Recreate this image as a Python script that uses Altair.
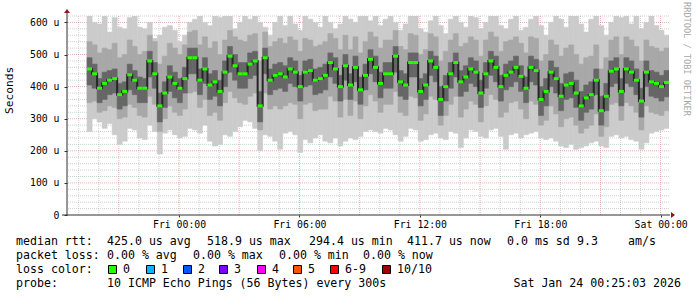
import altair as alt
import pandas as pd

# ---------------- data ----------------
# 15-minute bins, first bin starts Thu 19:25 (minute 60 after graph start Thu 18:25)
bin_start_min = 60
bin_minutes = 15

# median RTT (microseconds)
med = [455, 440, 395, 410, 420, 425, 375, 385, 437, 420,
       395, 395, 480, 440, 340, 380, 430, 410, 395, 425,
       490, 490, 420, 455, 405, 415, 385, 445, 495, 465,
       440, 440, 470, 480, 340, 490, 420, 435, 440, 430,
       455, 445, 400, 445, 450, 420, 425, 435, 475, 455,
       400, 465, 405, 460, 390, 435, 485, 460, 410, 440,
       440, 495, 415, 405, 475, 475, 385, 405, 480, 460,
       360, 400, 440, 475, 415, 430, 455, 445, 380, 440,
       480, 460, 400, 435, 445, 460, 432, 395, 460, 450,
       360, 385, 445, 425, 370, 405, 410, 380, 340, 365,
       375, 420, 325, 370, 448, 455, 385, 455, 445, 420,
       355, 445, 415, 410, 400, 413]

# outer smoke (min .. max ping)
smoke_hi = [620, 600, 595, 620, 570, 615, 585, 580, 615, 620,
            585, 580, 600, 550, 560, 585, 590, 575, 540, 560,
            600, 610, 620, 600, 590, 620, 615, 620, 620, 580,
            600, 620, 610, 620, 600, 585, 560, 600, 620, 590,
            620, 595, 575, 620, 610, 600, 585, 620, 600, 580,
            595, 620, 610, 600, 620, 620, 605, 620, 590, 610,
            620, 600, 575, 595, 620, 620, 580, 570, 605, 620,
            590, 565, 610, 620, 600, 585, 620, 615, 580, 600,
            620, 620, 590, 580, 610, 620, 575, 585, 610, 620,
            590, 560, 600, 620, 610, 585, 620, 620, 595, 570,
            610, 620, 590, 560, 600, 620, 615, 620, 595, 620,
            580, 600, 620, 590, 575, 560]
smoke_lo = [260, 300, 290, 270, 285, 250, 220, 230, 270, 265,
            240, 235, 280, 260, 190, 255, 265, 250, 240, 245,
            270, 265, 255, 280, 230, 215, 220, 250, 245, 260,
            275, 295, 290, 270, 200, 250, 245, 230, 205, 255,
            260, 250, 195, 235, 225, 240, 250, 230, 225, 240,
            215, 230, 240, 235, 245, 260, 265, 260, 255, 270,
            265, 250, 230, 245, 270, 265, 230, 235, 250, 255,
            240, 235, 260, 255, 210, 240, 265, 260, 245, 240,
            265, 270, 245, 205, 250, 255, 240, 250, 255, 260,
            240, 235, 240, 230, 215, 210, 220, 205, 210, 215,
            225, 230, 215, 210, 245, 250, 240, 245, 235, 230,
            205, 225, 255, 260, 265, 270]

# middle smoke
mid_hi = [540, 530, 505, 520, 515, 535, 490, 500, 545, 525,
          500, 510, 560, 540, 470, 495, 535, 520, 500, 530,
          570, 575, 530, 555, 520, 540, 500, 545, 575, 555,
          545, 540, 560, 565, 480, 570, 525, 540, 550, 535,
          555, 545, 510, 550, 545, 525, 530, 540, 565, 550,
          515, 560, 515, 555, 505, 540, 570, 555, 520, 545,
          545, 575, 525, 515, 565, 560, 500, 515, 565, 555,
          480, 510, 545, 565, 525, 535, 555, 545, 495, 545,
          570, 555, 510, 540, 545, 555, 535, 505, 555, 550,
          480, 500, 545, 530, 495, 520, 530, 500, 470, 490,
          495, 530, 455, 490, 545, 555, 500, 555, 545, 525,
          480, 545, 525, 520, 510, 520]
mid_lo = [350, 355, 320, 325, 340, 335, 300, 305, 345, 335,
          310, 305, 370, 345, 260, 300, 340, 320, 310, 330,
          380, 385, 335, 360, 310, 320, 295, 350, 385, 365,
          350, 345, 370, 380, 265, 380, 330, 340, 330, 340,
          350, 345, 300, 345, 350, 325, 330, 330, 370, 355,
          305, 360, 310, 355, 300, 340, 375, 355, 320, 345,
          345, 385, 320, 310, 370, 365, 295, 315, 370, 360,
          280, 310, 345, 370, 305, 330, 355, 345, 290, 340,
          375, 360, 305, 320, 350, 355, 330, 300, 355, 345,
          280, 295, 340, 315, 275, 300, 305, 280, 255, 270,
          280, 315, 245, 275, 345, 350, 295, 350, 340, 320,
          265, 340, 320, 315, 310, 325]

# inner (dark) smoke
core_hi = [490, 470, 425, 445, 450, 455, 410, 415, 470, 450,
           430, 425, 510, 475, 380, 415, 465, 445, 425, 460,
           520, 520, 455, 490, 440, 450, 420, 480, 525, 500,
           475, 475, 505, 510, 385, 520, 455, 470, 475, 465,
           490, 480, 435, 480, 485, 455, 460, 470, 505, 490,
           435, 500, 440, 495, 430, 470, 515, 495, 445, 475,
           475, 525, 450, 440, 505, 505, 425, 440, 510, 495,
           400, 435, 475, 505, 450, 465, 490, 480, 420, 475,
           510, 495, 435, 470, 480, 495, 465, 430, 495, 485,
           400, 425, 480, 460, 410, 440, 445, 420, 385, 405,
           415, 455, 370, 410, 480, 490, 425, 490, 480, 455,
           395, 480, 450, 445, 435, 450]
core_lo = [405, 395, 350, 360, 375, 380, 330, 340, 390, 375,
           350, 350, 430, 395, 290, 335, 385, 365, 350, 380,
           440, 440, 375, 410, 360, 370, 340, 400, 445, 420,
           395, 395, 425, 435, 290, 440, 375, 390, 395, 385,
           410, 400, 355, 400, 405, 375, 380, 390, 430, 410,
           355, 420, 360, 415, 345, 390, 440, 415, 365, 395,
           395, 445, 370, 360, 430, 430, 340, 360, 435, 415,
           310, 355, 395, 430, 370, 385, 410, 400, 335, 395,
           435, 415, 355, 390, 400, 415, 385, 350, 415, 405,
           310, 340, 400, 380, 325, 360, 365, 335, 295, 320,
           330, 375, 280, 325, 400, 410, 340, 410, 400, 375,
           305, 400, 370, 365, 355, 368]

# axis ticks (minutes after Thu 18:25) and labels
x_tick_minutes = [335, 695, 1055, 1415, 1775]
x_tick_labels = ["Fri 00:00", "Fri 06:00", "Fri 12:00", "Fri 18:00", "Sat 00:00"]
y_ticks = [0, 100, 200, 300, 400, 500, 600]

# legend texts
rtt_stats = ["425.0 us avg", "518.9 us max", "294.4 us min", "411.7 us now",
             "0.0 ms sd", "9.3", "am/s"]
loss_stats = ["0.00 % avg", "0.00 % max", "0.00 % min", "0.00 % now"]
loss_labels = ["0", "1", "2", "3", "4", "5", "6-9", "10/10"]
loss_colors = ["#26ff00", "#00b8ff", "#0059ff", "#7e00ff", "#ff00ff",
               "#ff5500", "#ff0000", "#a10000"]
probe_text = "10 ICMP Echo Pings (56 Bytes) every 300s"
stamp_text = "Sat Jan 24 00:25:03 2026"
watermark = "RRDTOOL / TOBI OETIKER"

# ---------------- build ----------------
n = min(len(a) for a in [med, smoke_hi, smoke_lo, mid_hi, mid_lo, core_hi, core_lo])
t0 = [bin_start_min + bin_minutes * i for i in range(n)]
df = pd.DataFrame({
    "t0": t0, "t1": [t + bin_minutes for t in t0],
    "med": med[:n], "lt": smoke_hi[:n], "lb": smoke_lo[:n],
    "mt": mid_hi[:n], "mb": mid_lo[:n], "dt": core_hi[:n], "db": core_lo[:n],
})

W, H = 602, 199
L, T = 67, 16
MONO = "DejaVu Sans Mono"

XS = alt.Scale(domain=[0, 1800], nice=False, zero=False)
YS = alt.Scale(domain=[0, 620], nice=False, zero=True)

lab = " : ".join(f"datum.value == {v} ? '{s}'" for v, s in zip(x_tick_minutes, x_tick_labels)) + " : ''"
XA = alt.Axis(values=x_tick_minutes, labelExpr=lab, title=None, grid=False, domain=False,
              ticks=True, tickSize=2, tickColor="#333333", labelFont=MONO, labelFontSize=9.8,
              labelColor="#000000", labelPadding=2, labelFlush=False, labelOverlap=False)
YA = alt.Axis(values=y_ticks, labelExpr="datum.value == 0 ? '0\u00a0\u00a0' : datum.value + ' u'",
              title=None, grid=False, domain=False, ticks=True, tickSize=3, tickColor="#333333",
              labelFont=MONO, labelFontSize=9.8, labelColor="#000000", labelPadding=5)


def band(lo, hi, color):
    return alt.Chart(df).mark_rect(color=color, stroke=color, strokeWidth=0.6, clip=True).encode(
        x=alt.X("t0:Q", scale=XS, axis=XA), x2="t1:Q",
        y=alt.Y(f"{lo}:Q", scale=YS, axis=YA), y2=f"{hi}:Q")


light = band("lb", "lt", "#cbcbcb")
mid = band("mb", "mt", "#a8a8a8")
core = band("db", "dt", "#666666")

med_line = alt.Chart(df).mark_line(interpolate="step-after", color="#262626", strokeWidth=2,
                                   clip=True).encode(
    x=alt.X("t0:Q", scale=XS, axis=XA), y=alt.Y("med:Q", scale=YS, axis=YA))
med_green = alt.Chart(df).mark_rule(color=loss_colors[0], strokeWidth=3, strokeCap="butt",
                                    clip=True).encode(
    x=alt.X("t0:Q", scale=XS, axis=XA), x2="t1:Q", y=alt.Y("med:Q", scale=YS, axis=YA))

# grid
maj_x = list(range(155, 1800, 180))
min_x = [m for m in range(35, 1800, 60) if m not in maj_x]
maj_y = [100, 200, 300, 400, 500, 600]
min_y = [v for v in range(20, 621, 20) if v not in maj_y]

MINC, MAJC = "#a8a8a8", "#d87878"


def vgrid(vals, color, op):
    return alt.Chart(pd.DataFrame({"v": vals})).mark_rule(
        color=color, strokeDash=[1, 1], strokeWidth=1, opacity=op).encode(
        x=alt.X("v:Q", scale=XS, axis=XA))


def hgrid(vals, color, op):
    return alt.Chart(pd.DataFrame({"v": vals})).mark_rule(
        color=color, strokeDash=[1, 1], strokeWidth=1, opacity=op).encode(
        y=alt.Y("v:Q", scale=YS, axis=YA))


grid = [vgrid(min_x, MINC, 0.55), hgrid(min_y, MINC, 0.55),
        vgrid(maj_x, MAJC, 0.6), hgrid(maj_y, MAJC, 0.6)]

one = pd.DataFrame({"k": [0]})
AXC = "#303030"
ARC = "#8b1a1a"
yaxis_line = alt.Chart(one).mark_rule(color=AXC, strokeWidth=1).encode(
    x=alt.value(0), y=alt.value(-3), y2=alt.value(H))
xaxis_line = alt.Chart(one).mark_rule(color=AXC, strokeWidth=1).encode(
    x=alt.value(-5), x2=alt.value(W + 1), y=alt.value(H))
arrow_up = alt.Chart(one).mark_point(shape="M-1,0.67L0,-0.67L1,0.67Z", size=36, filled=True,
                                     color=ARC, opacity=1).encode(x=alt.value(0), y=alt.value(-5))
arrow_right = alt.Chart(one).mark_point(shape="M-0.67,-1L0.67,0L-0.67,1Z", size=36, filled=True,
                                        color=ARC, opacity=1).encode(x=alt.value(W + 4), y=alt.value(H))


def txt(s, ax, ay, size=11.6, color="#000000", align="left", angle=0):
    return alt.Chart(one).mark_text(text=s, font=MONO, fontSize=size, color=color, align=align,
                                    baseline="middle", angle=angle).encode(
        x=alt.value(ax - L), y=alt.value(ay - T))


texts = []
texts.append(txt("Seconds", 10, 114, size=11.2, angle=270))
texts.append(txt(watermark, 687, 59, size=8.6, color="#a8a8a8", align="center", angle=90))

# row 1
texts.append(txt("median rtt:", 16, 241.5))
for s, xx in zip(rtt_stats, [107, 207, 309, 407, 507, 577, 628]):
    texts.append(txt(s, xx, 241.5))
# row 2
texts.append(txt("packet loss:", 16, 255.5))
for s, xx in zip(loss_stats, [107, 193, 279, 363]):
    texts.append(txt(s, xx, 255.5))
# row 3
texts.append(txt("loss color:", 16, 269.5))
sq_x = [108, 146, 183, 219, 257, 293, 330, 382]
for s, c, xx in zip(loss_labels, loss_colors, sq_x):
    texts.append(alt.Chart(one).mark_rect(fill=c, stroke="#000000", strokeWidth=1).encode(
        x=alt.value(xx - L + 0.5), x2=alt.value(xx - L + 8.5),
        y=alt.value(265.5 - T), y2=alt.value(273.5 - T)))
    texts.append(txt(s, xx + 15, 269.5))
# row 4
texts.append(txt("probe:", 16, 283.5))
texts.append(txt(probe_text, 107, 283.5))
texts.append(txt(stamp_text, 681, 283.5, align="right"))

chart = alt.layer(
    *grid, light, mid, core, med_line, med_green,
    yaxis_line, xaxis_line, arrow_up, arrow_right, *texts
).properties(
    width=W, height=H,
    padding={"left": L, "top": T, "right": 697 - L - W, "bottom": 297 - T - H},
    autosize=alt.AutoSizeParams(type="none"),
    background="#ffffff",
).configure_view(stroke=None)

chart.save("out.html", embed_options={"renderer": "svg", "actions": False})
